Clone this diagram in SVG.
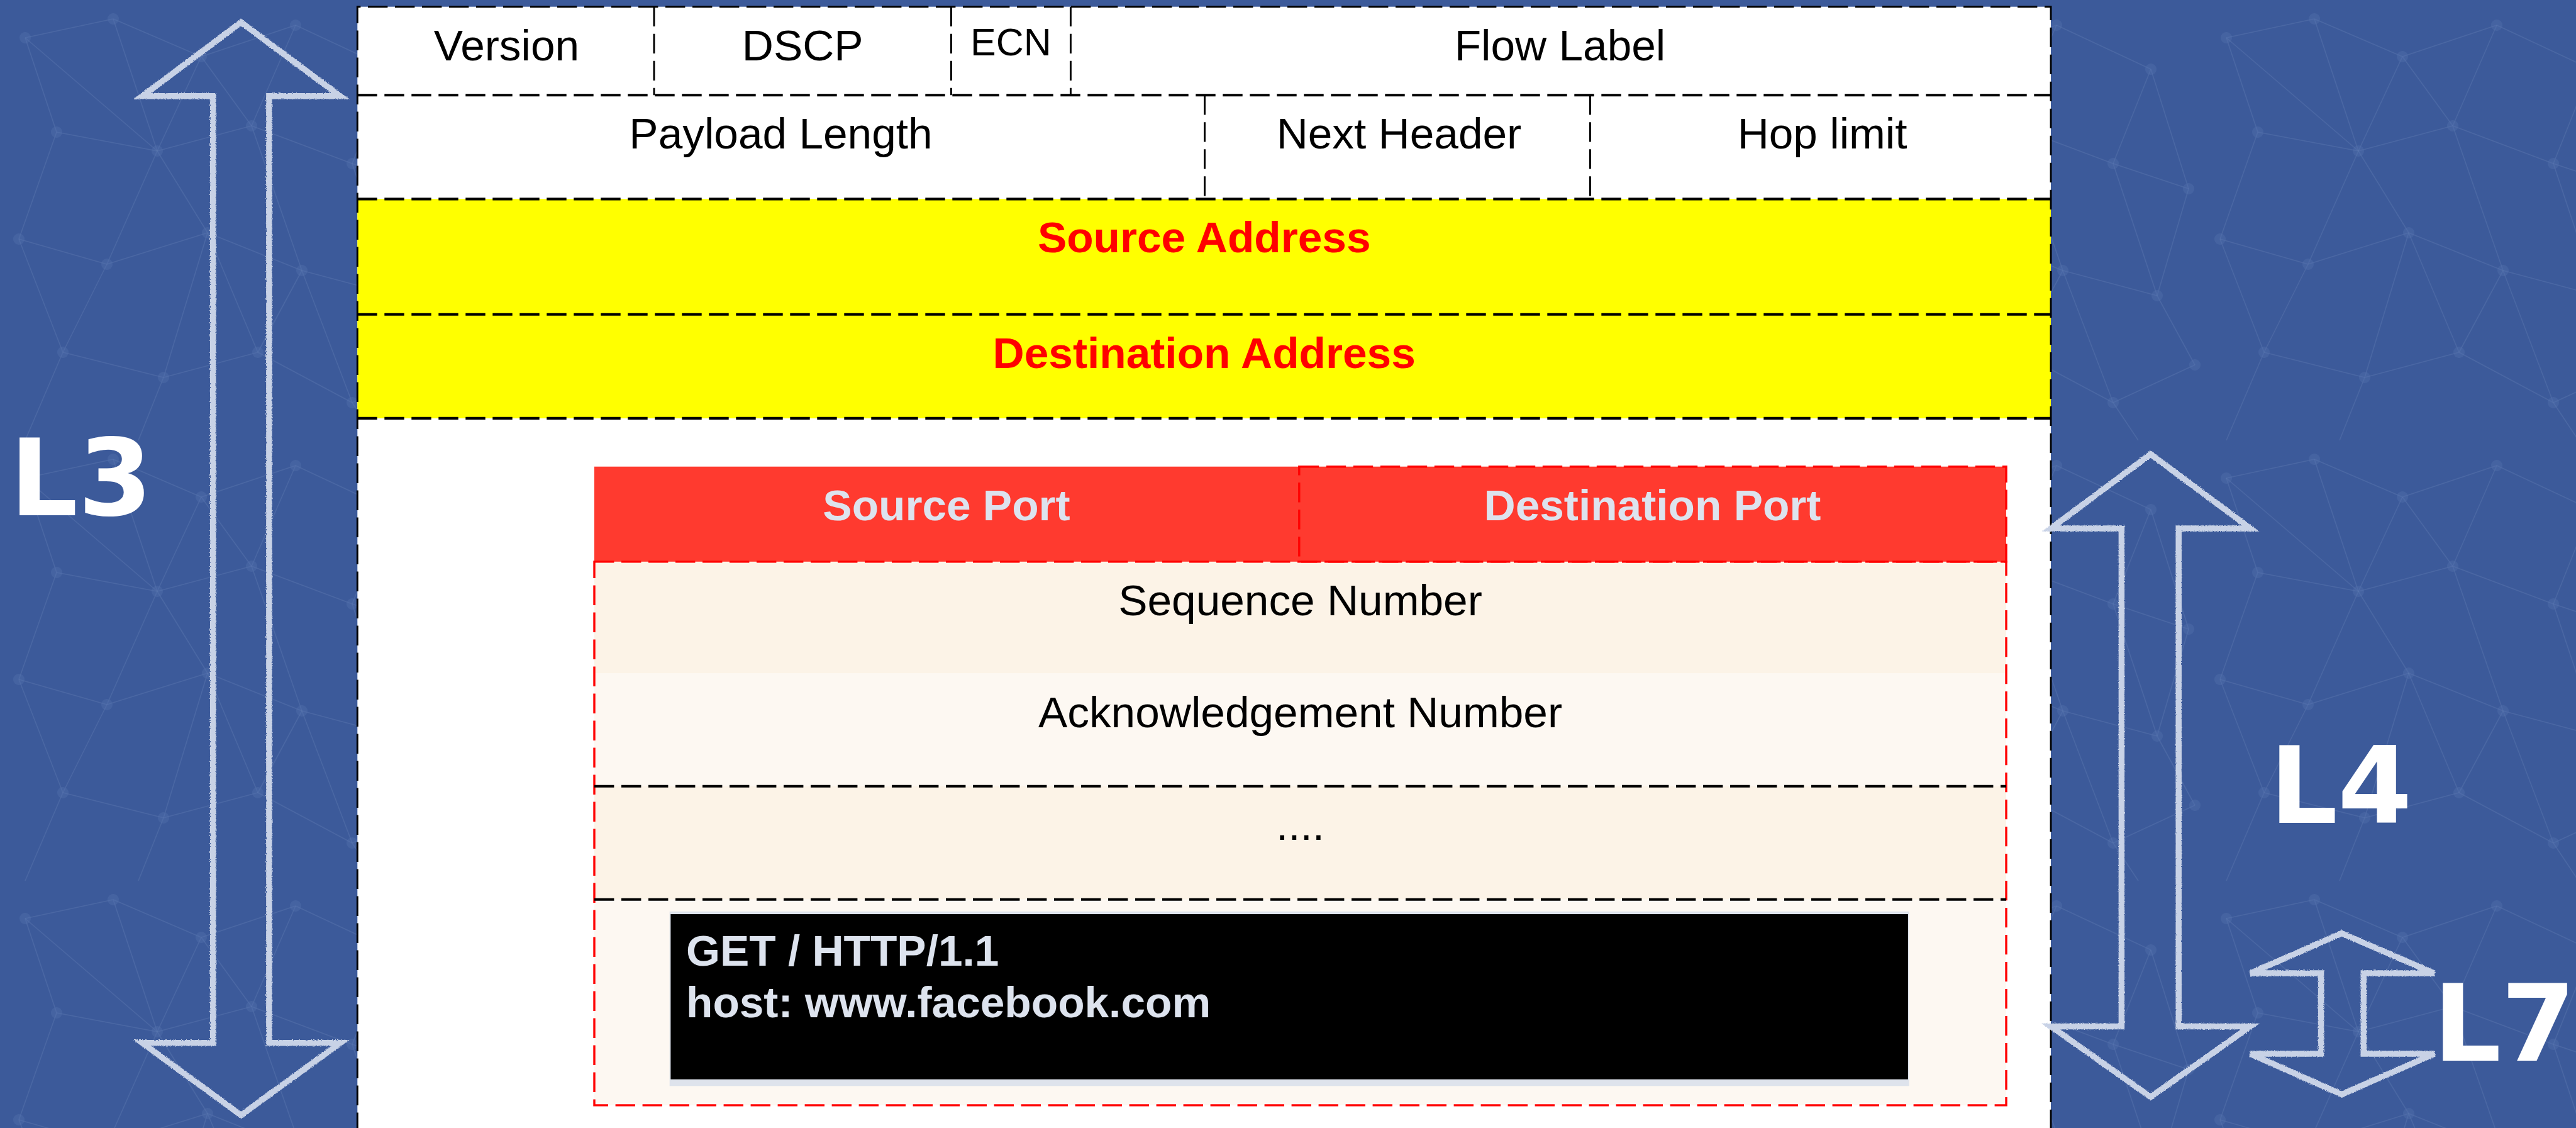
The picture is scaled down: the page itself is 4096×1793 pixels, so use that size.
<svg xmlns="http://www.w3.org/2000/svg" width="4096" height="1793" viewBox="0 0 4096 1793">
  <style>
    .lbl { font-family: "Liberation Sans", Arial, sans-serif; font-size: 69.4px; fill: #000; text-anchor: middle; }
    .bold { font-weight: bold; }
    .addr { fill: #FF0000; }
    .port { fill: #DDE3EE; }
    .layer { font-family: "DejaVu Sans", Verdana, sans-serif; font-weight: bold; font-size: 170px; fill: #FFFFFF; text-anchor: middle; }
    .dash { fill: none; stroke: #000; stroke-dasharray: 31.4 11.6; }
    .thin { stroke-width: 2.9; }
    .row { stroke-width: 4.1; }
    .rdash { fill: none; stroke: #FF0000; stroke-width: 3.4; stroke-dasharray: 31.4 11.6; }
    .chalk { fill: none; stroke: #C8D2E6; stroke-width: 9.5; stroke-linejoin: miter; filter: url(#rough); }
    .net line { stroke: #6A84BA; stroke-width: 1.6; stroke-opacity: 0.3; }
    .net circle { fill: #5270AC; fill-opacity: 0.4; }
  </style>
  <defs>
    <filter id="rough" x="-5%" y="-5%" width="110%" height="110%">
      <feTurbulence type="fractalNoise" baseFrequency="0.9" numOctaves="2" seed="3" result="n"/>
      <feDisplacementMap in="SourceGraphic" in2="n" scale="3.5" xChannelSelector="R" yChannelSelector="G"/>
    </filter>
    <!-- faint network texture tile -->
    <pattern id="net" width="700" height="700" patternUnits="userSpaceOnUse">
      <g class="net">
        <line x1="40" y1="60" x2="180" y2="30"/>
        <line x1="40" y1="60" x2="90" y2="210"/>
        <line x1="40" y1="60" x2="250" y2="240"/>
        <line x1="180" y1="30" x2="320" y2="90"/>
        <line x1="180" y1="30" x2="250" y2="240"/>
        <line x1="320" y1="90" x2="470" y2="40"/>
        <line x1="320" y1="90" x2="400" y2="200"/>
        <line x1="320" y1="90" x2="250" y2="240"/>
        <line x1="470" y1="40" x2="620" y2="110"/>
        <line x1="470" y1="40" x2="400" y2="200"/>
        <line x1="620" y1="110" x2="560" y2="260"/>
        <line x1="620" y1="110" x2="680" y2="300"/>
        <line x1="90" y1="210" x2="250" y2="240"/>
        <line x1="90" y1="210" x2="30" y2="380"/>
        <line x1="250" y1="240" x2="400" y2="200"/>
        <line x1="250" y1="240" x2="330" y2="370"/>
        <line x1="250" y1="240" x2="170" y2="420"/>
        <line x1="400" y1="200" x2="560" y2="260"/>
        <line x1="400" y1="200" x2="480" y2="430"/>
        <line x1="560" y1="260" x2="680" y2="300"/>
        <line x1="560" y1="260" x2="630" y2="470"/>
        <line x1="680" y1="300" x2="630" y2="470"/>
        <line x1="30" y1="380" x2="170" y2="420"/>
        <line x1="30" y1="380" x2="100" y2="560"/>
        <line x1="170" y1="420" x2="330" y2="370"/>
        <line x1="170" y1="420" x2="100" y2="560"/>
        <line x1="330" y1="370" x2="480" y2="430"/>
        <line x1="330" y1="370" x2="410" y2="560"/>
        <line x1="330" y1="370" x2="260" y2="600"/>
        <line x1="480" y1="430" x2="630" y2="470"/>
        <line x1="480" y1="430" x2="410" y2="560"/>
        <line x1="480" y1="430" x2="560" y2="640"/>
        <line x1="630" y1="470" x2="690" y2="580"/>
        <line x1="100" y1="560" x2="260" y2="600"/>
        <line x1="260" y1="600" x2="410" y2="560"/>
        <line x1="410" y1="560" x2="560" y2="640"/>
        <line x1="560" y1="640" x2="690" y2="580"/>
        <line x1="260" y1="600" x2="220" y2="700"/>
        <line x1="100" y1="560" x2="40" y2="700"/>
        <line x1="560" y1="640" x2="600" y2="700"/>
        <circle cx="40" cy="60" r="9"/><circle cx="180" cy="30" r="9"/><circle cx="320" cy="90" r="9"/>
        <circle cx="470" cy="40" r="9"/><circle cx="620" cy="110" r="9"/><circle cx="90" cy="210" r="9"/>
        <circle cx="250" cy="240" r="9"/><circle cx="400" cy="200" r="9"/><circle cx="560" cy="260" r="9"/>
        <circle cx="680" cy="300" r="9"/><circle cx="30" cy="380" r="9"/><circle cx="170" cy="420" r="9"/>
        <circle cx="330" cy="370" r="9"/><circle cx="480" cy="430" r="9"/><circle cx="630" cy="470" r="9"/>
        <circle cx="100" cy="560" r="9"/><circle cx="260" cy="600" r="9"/><circle cx="410" cy="560" r="9"/>
        <circle cx="560" cy="640" r="9"/><circle cx="690" cy="580" r="9"/>
      </g>
    </pattern>
  </defs>

  <!-- backdrop -->
  <rect x="0" y="0" width="4096" height="1793" fill="#3C5A9A"/>
  <rect x="0" y="0" width="4096" height="1793" fill="url(#net)"/>

  <!-- IPv6 header block -->
  <g id="ipv6-header">
    <rect x="568.3" y="10.7" width="2692.7" height="1800" fill="#FFFFFF"/>
    <rect x="568.3" y="316.4" width="2692.7" height="348.5" fill="#FFFF00"/>
    <!-- outline -->
    <path class="dash thin" d="M568.3 1800 V10.7 H3261 V1800"/>
    <!-- row separators -->
    <path class="dash row" d="M568.3 151.2 H3261 M568.3 316.4 H3261 M568.3 499.7 H3261 M568.3 664.9 H3261"/>
    <!-- field dividers -->
    <path class="dash thin" d="M1040 10.7 V151.2 M1512.4 10.7 V151.2 M1702.4 10.7 V151.2 M1915.5 151.2 V316.4 M2528.4 151.2 V316.4"/>
  </g>

  <g id="field-version"><text class="lbl" x="805.4" y="95.8">Version</text></g>
  <g id="field-dscp"><text class="lbl" x="1276.2" y="95.8">DSCP</text></g>
  <g id="field-ecn"><text class="lbl" x="1607.4" y="87.6" style="font-size:61px">ECN</text></g>
  <g id="field-flow-label"><text class="lbl" x="2480.5" y="95.8">Flow Label</text></g>
  <g id="field-payload-length"><text class="lbl" x="1241.5" y="236.2">Payload Length</text></g>
  <g id="field-next-header"><text class="lbl" x="2224.4" y="236.2">Next Header</text></g>
  <g id="field-hop-limit"><text class="lbl" x="2897.6" y="236.2">Hop limit</text></g>
  <g id="field-source-address"><text class="lbl bold addr" x="1914.7" y="401.4">Source Address</text></g>
  <g id="field-destination-address"><text class="lbl bold addr" x="1914.7" y="584.8">Destination Address</text></g>

  <!-- TCP segment -->
  <g id="tcp-segment">
    <rect x="945" y="741.7" width="2245" height="151.2" fill="#FF3A2F"/>
    <rect x="945" y="892.9" width="2245" height="177.6" fill="#FCF3E7"/>
    <rect x="945" y="1070.5" width="2245" height="179.2" fill="#FDF8F2"/>
    <rect x="945" y="1249.7" width="2245" height="180.1" fill="#FCF3E7"/>
    <rect x="945" y="1429.8" width="2245" height="327.1" fill="#FDF8F2"/>
    <rect class="rdash" x="2065.8" y="741.7" width="1124.2" height="151.2"/>
    <rect class="rdash" x="945" y="892.9" width="2245" height="864"/>
    <path class="dash row" d="M945 1249.7 H3190 M945 1429.8 H3190"/>
  </g>

  <g id="field-source-port"><text class="lbl bold port" x="1505" y="826.8">Source Port</text></g>
  <g id="field-destination-port"><text class="lbl bold port" x="2627.5" y="826.8">Destination Port</text></g>
  <g id="field-sequence-number"><text class="lbl" x="2067.5" y="978">Sequence Number</text></g>
  <g id="field-ack-number"><text class="lbl" x="2067.5" y="1155.6">Acknowledgement Number</text></g>
  <g id="field-more"><text class="lbl" x="2067.5" y="1334.8">....</text></g>

  <!-- HTTP payload -->
  <g id="http-payload">
    <rect x="1064.7" y="1448.8" width="1970.9" height="277.5" fill="#DEE3EC"/>
    <rect x="1066.4" y="1453" width="1967.5" height="262.6" fill="#000000"/>
    <text class="lbl bold port" x="1091" y="1534.7" style="text-anchor:start">GET / HTTP/1.1</text>
    <text class="lbl bold port" x="1091" y="1616.5" style="text-anchor:start">host: www.facebook.com</text>
  </g>

  <!-- layer span arrows -->
  <g id="arrows">
    <path class="chalk" d="M383.3 35.5 L541 152.8 L427.9 152.8 L427.9 1657.8 L541 1657.8 L383.3 1772.6 L226.3 1657.8 L338.7 1657.8 L338.7 152.8 L226.3 152.8 Z"/>
    <path class="chalk" d="M3419.6 721.9 L3578.2 840 L3464.2 840 L3464.2 1631.4 L3578.2 1631.4 L3419.6 1743.7 L3261 1631.4 L3373.4 1631.4 L3373.4 840 L3261 840 Z"/>
    <path class="chalk" d="M3723.6 1483.5 L3870.6 1547.1 L3758.3 1547.1 L3758.3 1675.1 L3870.6 1675.1 L3723.6 1739.6 L3578.2 1675.1 L3690.6 1675.1 L3690.6 1547.1 L3578.2 1547.1 Z"/>
  </g>

  <g id="label-l3"><text class="layer" x="128.9" y="818.6">L3</text></g>
  <g id="label-l4"><text class="layer" x="3722" y="1308.4">L4</text></g>
  <g id="label-l7"><text class="layer" x="3982" y="1685.9">L7</text></g>
</svg>
